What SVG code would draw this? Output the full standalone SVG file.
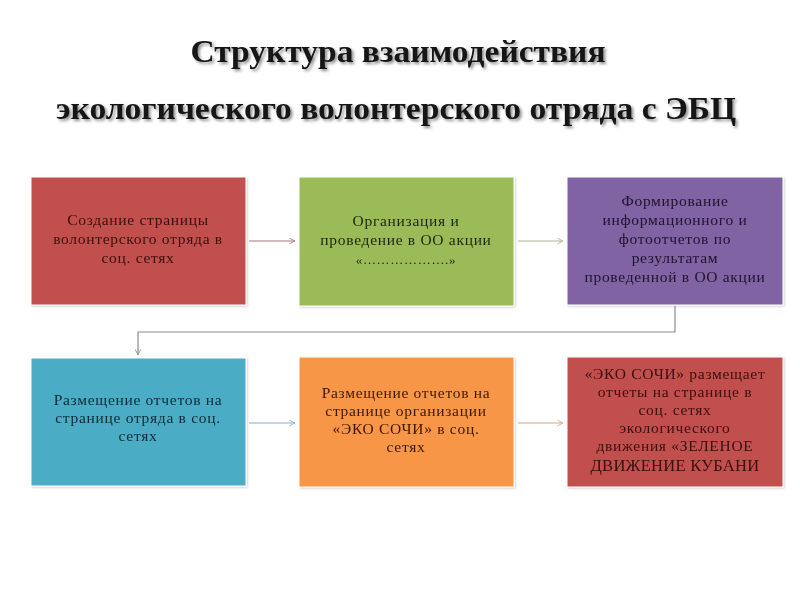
<svg xmlns="http://www.w3.org/2000/svg" width="800" height="600" viewBox="0 0 800 600">
<style>
.title{font-family:"Liberation Serif","DejaVu Serif",serif;font-weight:bold;font-size:31px;fill:#141414;text-anchor:middle}
.t{font-family:"Liberation Serif","DejaVu Serif",serif;font-size:15.5px;letter-spacing:0.7px;text-anchor:middle}
.box{stroke:#ffffff;stroke-width:1}
.conn{fill:none;stroke-width:1.2}
</style>
<defs>
<filter id="sh" x="-5%" y="-30%" width="110%" height="160%">
<feDropShadow dx="2" dy="2" stdDeviation="1.5" flood-color="#000" flood-opacity="0.45"/>
</filter>
<filter id="bs" x="-5%" y="-5%" width="112%" height="112%">
<feDropShadow dx="1" dy="1" stdDeviation="1.2" flood-color="#000" flood-opacity="0.2"/>
</filter>
<marker id="ar" viewBox="0 0 10 10" refX="9" refY="5" markerWidth="7" markerHeight="7" orient="auto" markerUnits="userSpaceOnUse">
<path d="M1,1 L9,5 L1,9" fill="none" stroke="context-stroke" stroke-width="1.2"/>
</marker>
</defs>
<rect width="800" height="600" fill="#ffffff"/>
<g id="title" filter="url(#sh)">
<text class="title" x="398" y="62" textLength="415" lengthAdjust="spacingAndGlyphs">Структура взаимодействия</text>
<text class="title" x="396" y="119" textLength="680" lengthAdjust="spacingAndGlyphs">экологического волонтерского отряда с ЭБЦ</text>
</g>
<g id="connectors">
<path class="conn" d="M249,241 H295" stroke="#a87878" marker-end="url(#ar)"/>
<path class="conn" d="M518,241 H563" stroke="#a8b890" marker-end="url(#ar)"/>
<path class="conn" d="M675,306 V332 H138 V355" stroke="#8a8a96" marker-end="url(#ar)"/>
<path class="conn" d="M249,423 H295" stroke="#88b0c0" marker-end="url(#ar)"/>
<path class="conn" d="M518,423 H563" stroke="#d0a888" marker-end="url(#ar)"/>
</g>
<g id="node1" filter="url(#bs)">
<rect class="box" x="31" y="177" width="215" height="128" fill="#c0504d"/>
<text class="t" fill="#3a0e0e"><tspan x="138" y="225">Создание страницы</tspan><tspan x="138" y="244">волонтерского отряда в</tspan><tspan x="138" y="263">соц. сетях</tspan></text>
</g>
<g id="node2" filter="url(#bs)">
<rect class="box" x="299" y="177" width="215" height="129" fill="#9bbb59"/>
<text class="t" fill="#1c260c"><tspan x="406" y="226">Организация и</tspan><tspan x="406" y="245">проведение  в ОО акции</tspan><tspan x="406" y="264" font-size="13">«……………….»</tspan></text>
</g>
<g id="node3" filter="url(#bs)">
<rect class="box" x="567" y="177" width="216" height="128" fill="#8064a2"/>
<text class="t" fill="#1e1230"><tspan x="675" y="206">Формирование</tspan><tspan x="675" y="225">информационного и</tspan><tspan x="675" y="244">фотоотчетов по</tspan><tspan x="675" y="263">результатам</tspan><tspan x="675" y="282">проведенной в ОО акции</tspan></text>
</g>
<g id="node4" filter="url(#bs)">
<rect class="box" x="31" y="358" width="215" height="128" fill="#4bacc6"/>
<text class="t" fill="#0e2a34"><tspan x="138" y="405">Размещение отчетов на</tspan><tspan x="138" y="423">странице отряда в соц.</tspan><tspan x="138" y="441">сетях</tspan></text>
</g>
<g id="node5" filter="url(#bs)">
<rect class="box" x="299" y="357" width="215" height="130" fill="#f79646"/>
<text class="t" fill="#3e1805"><tspan x="406" y="398">Размещение отчетов на</tspan><tspan x="406" y="416">странице организации</tspan><tspan x="406" y="434">«ЭКО СОЧИ» в соц.</tspan><tspan x="406" y="452">сетях</tspan></text>
</g>
<g id="node6" filter="url(#bs)">
<rect class="box" x="567" y="357" width="216" height="130" fill="#c0504d"/>
<text class="t" fill="#3a0e0e"><tspan x="675" y="379">«ЭКО СОЧИ» размещает</tspan><tspan x="675" y="397">отчеты на странице  в</tspan><tspan x="675" y="415">соц. сетях</tspan><tspan x="675" y="433">экологического</tspan><tspan x="675" y="451">движения «ЗЕЛЕНОЕ</tspan><tspan x="675" y="471" font-size="16.5" letter-spacing="0.3">ДВИЖЕНИЕ КУБАНИ</tspan></text>
</g>
</svg>
